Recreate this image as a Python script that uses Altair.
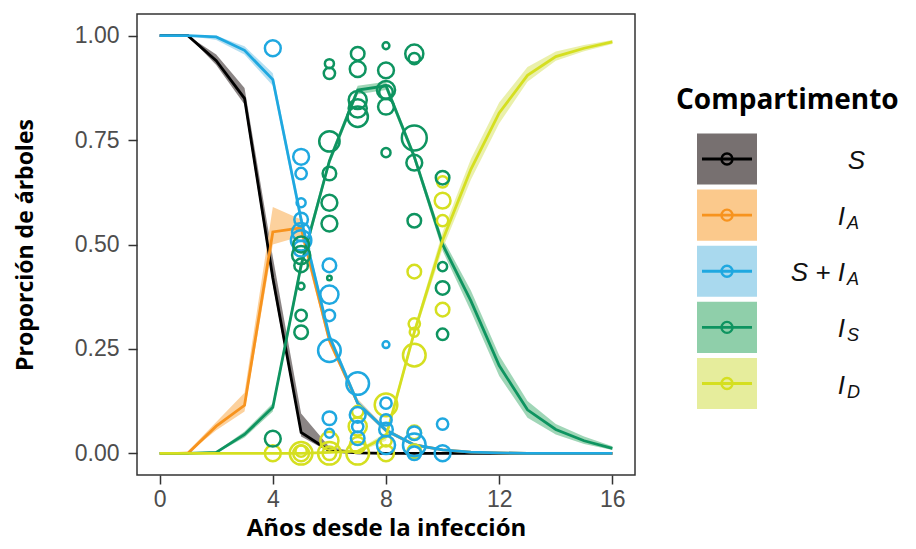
import altair as alt
import pandas as pd

# ---------------- data ----------------
years = list(range(17))
comps = ["S", "I_A", "S+I_A", "I_S", "I_D"]

s_mean = [1.00, 1.00, 0.94, 0.85, 0.42, 0.05, 0.006, 0.001, 0, 0, 0, 0, 0, 0, 0, 0, 0]
s_lo = [1.00, 1.00, 0.93, 0.835, 0.405, 0.04, 0.003, 0, 0, 0, 0, 0, 0, 0, 0, 0, 0]
s_hi = [1.00, 1.00, 0.955, 0.875, 0.47, 0.095, 0.015, 0.003, 0, 0, 0, 0, 0, 0, 0, 0, 0]

ia_mean = [0, 0, 0.065, 0.115, 0.53, 0.54, 0.27, 0.12, 0.055, 0.02, 0.008, 0.003, 0.001, 0, 0, 0, 0]
ia_lo = [0, 0, 0.055, 0.10, 0.50, 0.52, 0.26, 0.115, 0.05, 0.017, 0.006, 0.002, 0, 0, 0, 0, 0]
ia_hi = [0, 0.005, 0.075, 0.145, 0.59, 0.56, 0.285, 0.13, 0.06, 0.024, 0.01, 0.004, 0.002, 0, 0, 0, 0]

sia_mean = [1.00, 1.00, 0.997, 0.965, 0.895, 0.56, 0.28, 0.12, 0.055, 0.02, 0.008, 0.003, 0.001, 0, 0, 0, 0]
sia_lo = [1.00, 1.00, 0.99, 0.955, 0.88, 0.545, 0.27, 0.112, 0.05, 0.017, 0.006, 0.002, 0, 0, 0, 0, 0]
sia_hi = [1.00, 1.00, 1.00, 0.975, 0.91, 0.575, 0.29, 0.128, 0.06, 0.024, 0.01, 0.004, 0.002, 0, 0, 0, 0]

is_mean = [0, 0, 0.002, 0.045, 0.11, 0.45, 0.70, 0.87, 0.88, 0.71, 0.50, 0.365, 0.21, 0.104, 0.057, 0.03, 0.012]
is_lo = [0, 0, 0, 0.038, 0.10, 0.435, 0.69, 0.86, 0.87, 0.70, 0.485, 0.34, 0.185, 0.085, 0.045, 0.022, 0.008]
is_hi = [0, 0, 0.004, 0.052, 0.12, 0.465, 0.71, 0.88, 0.89, 0.72, 0.515, 0.39, 0.235, 0.125, 0.07, 0.04, 0.017]

id_mean = [0, 0, 0, 0, 0, 0, 0.002, 0.005, 0.04, 0.29, 0.51, 0.68, 0.815, 0.905, 0.95, 0.97, 0.985]
id_lo = [0, 0, 0, 0, 0, 0, 0, 0.002, 0.03, 0.28, 0.49, 0.655, 0.79, 0.89, 0.94, 0.963, 0.98]
id_hi = [0, 0, 0, 0, 0, 0, 0.004, 0.008, 0.05, 0.30, 0.53, 0.705, 0.84, 0.925, 0.962, 0.978, 0.99]

# observed proportions (open circles); n = number of trees (circle area)
b_year = [4, 5, 5, 5, 5, 5, 5, 5, 6, 6, 6, 6, 6, 6, 7, 7, 7, 7, 8, 8, 8, 8, 8, 9, 9, 9, 10, 10]
b_val = [0.97, 0.71, 0.67, 0.60, 0.56, 0.53, 0.51, 0.49, 0.45, 0.38, 0.33, 0.246, 0.084, 0.048,
         0.167, 0.092, 0.064, 0.036, 0.26, 0.12, 0.08, 0.057, 0.02, 0.048, 0.02, 0.0, 0.07, 0.0]
b_n = [49, 49, 25, 16, 36, 64, 81, 49, 36, 64, 25, 100, 36, 16, 100, 49, 25, 36, 9, 25, 25, 36, 64,
       36, 100, 36, 25, 49]

g_year = [4, 5, 5, 5, 5, 5, 5, 6, 6, 6, 6, 6, 6, 6, 7, 7, 7, 7, 7, 8, 8, 8, 8, 8, 8, 9, 9, 9, 9, 9,
          10, 10, 10, 10]
g_val = [0.035, 0.50, 0.475, 0.45, 0.40, 0.33, 0.29, 0.933, 0.91, 0.747, 0.67, 0.60, 0.55, 0.42,
         0.957, 0.92, 0.846, 0.826, 0.806, 0.976, 0.917, 0.87, 0.865, 0.83, 0.72, 0.957, 0.945,
         0.755, 0.696, 0.557, 0.66, 0.447, 0.396, 0.285]
g_n = [49, 49, 64, 36, 9, 25, 36, 16, 25, 81, 36, 49, 49, 4, 36, 49, 64, 64, 81, 9, 49, 64, 36, 49,
       16, 64, 25, 121, 49, 36, 36, 16, 36, 25]

d_year = [4, 5, 5, 5, 6, 6, 6, 7, 7, 7, 7, 8, 8, 8, 9, 9, 9, 9, 9, 9, 10, 10, 10, 10]
d_val = [0, 0, 0, 0.005, 0, 0.03, 0, 0.10, 0.064, 0.02, 0, 0.116, 0.03, 0, 0.435, 0.31, 0.29,
         0.235, 0.05, 0.005, 0.65, 0.605, 0.557, 0.344]
d_n = [49, 100, 49, 25, 100, 64, 36, 25, 64, 49, 100, 100, 25, 49, 36, 25, 16, 100, 36, 36, 25,
       49, 25, 36]

legend_main = ["S", "I", "S + I", "I", "I"]
legend_sub = ["", "A", "A", "S", "D"]
legend_title = "Compartimento"
x_title = "Años desde la infección"
y_title = "Proporción de árboles"
x_ticks = [0, 4, 8, 12, 16]
y_ticks = [0, 0.25, 0.5, 0.75, 1.0]

line_colors = ["#000000", "#f7931e", "#1fa8e0", "#0e9460", "#d5df20"]
ribbon_colors = ["#777070", "#fbc98c", "#a9d9ee", "#8fcfaa", "#e6ed9c"]

# ---------------- tables ----------------
series = {
    "S": (s_mean, s_lo, s_hi),
    "I_A": (ia_mean, ia_lo, ia_hi),
    "S+I_A": (sia_mean, sia_lo, sia_hi),
    "I_S": (is_mean, is_lo, is_hi),
    "I_D": (id_mean, id_lo, id_hi),
}
rows = []
for c, (m, lo, hi) in series.items():
    for yr, a, b, h in zip(years, m, lo, hi):
        rows.append({"comp": c, "year": yr, "mean": a, "lo": b, "hi": h})
df_lines = pd.DataFrame(rows)

pts = []
for c, ys, vs, ns in [("I_D", d_year, d_val, d_n), ("S+I_A", b_year, b_val, b_n), ("I_S", g_year, g_val, g_n)]:
    for yr, v, n in zip(ys, vs, ns):
        pts.append({"comp": c, "year": yr, "value": v, "n": n})
df_pts = pd.DataFrame(pts)

# ---------------- main panel ----------------
X = alt.X("year:Q", scale=alt.Scale(domain=[-0.8, 16.8], nice=False, zero=False),
          axis=alt.Axis(values=x_ticks, title=x_title, labelPadding=4, titlePadding=5,
                        titleFontSize=24))
Y_AX = alt.Axis(values=y_ticks, format=".2f", title=y_title, labelPadding=9, titlePadding=37,
                titleFontSize=23)
YSCALE = alt.Scale(domain=[-0.052, 1.052], nice=False, zero=False)

layers = []
for i, c in enumerate(comps):
    layers.append(
        alt.Chart(df_lines).transform_filter(alt.datum.comp == c)
        .mark_area(color=ribbon_colors[i], opacity=0.85)
        .encode(x=X, y=alt.Y("lo:Q", scale=YSCALE, axis=Y_AX), y2="hi:Q")
    )
for i, c in enumerate(comps):
    layers.append(
        alt.Chart(df_lines).transform_filter(alt.datum.comp == c)
        .mark_line(color=line_colors[i], strokeWidth=2.8)
        .encode(x=X, y=alt.Y("mean:Q", scale=YSCALE, axis=Y_AX))
    )
layers.append(
    alt.Chart(df_pts).mark_point(filled=False, strokeWidth=2.5, opacity=1)
    .encode(
        x=X,
        y=alt.Y("value:Q", scale=YSCALE, axis=Y_AX),
        color=alt.Color("comp:N", scale=alt.Scale(domain=comps, range=line_colors), legend=None),
        size=alt.Size("n:Q", scale=alt.Scale(domain=[0, 121], range=[0, 620]), legend=None),
    )
)
main = alt.layer(*layers).properties(
    width=498, height=461,
    view=alt.ViewBackground(stroke="#333333", strokeWidth=1.5),
)

# ---------------- custom legend panel ----------------
df_leg = pd.DataFrame({"comp": comps, "idx": list(range(len(comps))),
                       "main": legend_main, "sub": legend_sub})
LY_SCALE = alt.Scale(domain=[0, 4], range=[145, 369.5])
LY = alt.Y("idx:Q", scale=LY_SCALE, axis=None)
lcol = alt.Color("comp:N", scale=alt.Scale(domain=comps, range=line_colors), legend=None)

leg_base = alt.Chart(df_leg)
keys = leg_base.transform_calculate(y0="datum.idx - 0.455", y1="datum.idx + 0.455").mark_rect().encode(
    x=alt.value(41), x2=alt.value(101),
    y=alt.Y("y0:Q", scale=LY_SCALE, axis=None), y2="y1:Q",
    fill=alt.Fill("comp:N", scale=alt.Scale(domain=comps, range=ribbon_colors), legend=None),
)
krule = leg_base.mark_rule(strokeWidth=2.8).encode(x=alt.value(46), x2=alt.value(96), y=LY, color=lcol)
kpt = leg_base.mark_point(filled=False, size=120, strokeWidth=2.4, opacity=1).encode(
    x=alt.value(71), y=LY, color=lcol)
txt_main = leg_base.transform_filter(alt.datum.sub != "").mark_text(
    align="right", baseline="alphabetic", dy=10, fontSize=26, fontStyle="italic",
    font="Liberation Sans", color="#111111").encode(x=alt.value(189), y=LY, text="main:N")
txt_plain = leg_base.transform_filter(alt.datum.sub == "").mark_text(
    align="right", baseline="alphabetic", dy=10, fontSize=26, fontStyle="italic",
    font="Liberation Sans", color="#111111").encode(x=alt.value(209), y=LY, text="main:N")
txt_sub = leg_base.transform_filter(alt.datum.sub != "").mark_text(
    align="left", baseline="alphabetic", dy=14, fontSize=18, fontStyle="italic",
    font="Liberation Sans", color="#111111").encode(x=alt.value(191), y=LY, text="sub:N")
ttl = alt.Chart(pd.DataFrame({"t": [legend_title]})).mark_text(
    align="left", baseline="middle", fontSize=28, fontWeight="bold", font="Open Sans",
    color="#000000").encode(x=alt.value(20), y=alt.value(87), text="t:N")

legend = alt.layer(keys, krule, kpt, txt_main, txt_plain, txt_sub, ttl).properties(
    width=240, height=461,
    view=alt.ViewBackground(stroke="transparent", strokeWidth=0),
)

chart = alt.hconcat(main, legend, spacing=20).properties(
    padding={"left": 5, "top": 5, "right": 0, "bottom": 0}
).configure_axis(
    labelFont="Liberation Sans", labelFontSize=23, labelColor="#4d4d4d",
    titleFont="Open Sans", titleFontSize=22, titleFontWeight="bold", titleColor="#000000",
    tickColor="#333333", tickWidth=1.5, tickSize=9, domain=False, grid=False,
)

chart.save("out.html", embed_options={"renderer": "svg", "actions": False})
